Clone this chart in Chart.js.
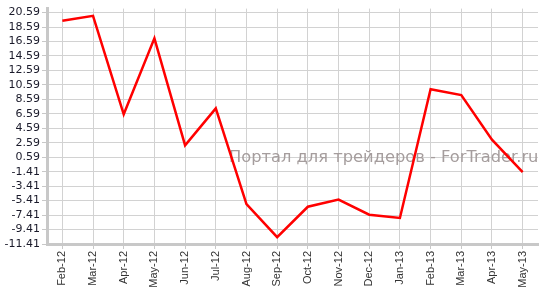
<!DOCTYPE html>
<html>
<head>
<meta charset="utf-8">
<script src="https://cdn.jsdelivr.net/npm/chart.js@4.4.0/dist/chart.umd.min.js"></script>
<style>
html,body{margin:0;padding:0;background:#fff;}
#wrap{position:relative;width:545px;height:291px;}
</style>
</head>
<body>
<div id="wrap"><canvas id="c"></canvas></div>
<script>
const categories = ["Feb-12","Mar-12","Apr-12","May-12","Jun-12","Jul-12","Aug-12","Sep-12","Oct-12","Nov-12","Dec-12","Jan-13","Feb-13","Mar-13","Apr-13","May-13"];
const values = [19.45, 20.14, 6.52, 17.03, 2.23, 7.35, -5.89, -10.46, -6.26, -5.26, -7.36, -7.81, 10.0, 9.18, 3.01, -1.46];
const yTickValues = [-11.41,-9.41,-7.41,-5.41,-3.41,-1.41,0.59,2.59,4.59,6.59,8.59,10.59,12.59,14.59,16.59,18.59,20.59];
const watermark = "Портал для трейдеров - ForTrader.ru";

const watermarkPlugin = {
  id: 'watermark',
  beforeDatasetsDraw(chart) {
    const ctx = chart.ctx;
    ctx.save();
    ctx.font = '16.3px "DejaVu Sans"';
    ctx.fillStyle = '#a59d9d';
    ctx.textBaseline = 'alphabetic';
    ctx.textAlign = 'left';
    ctx.fillText(watermark, 229, 162);
    ctx.restore();
  }
};

new Chart(document.getElementById('c'), {
  type: 'line',
  data: {
    labels: categories,
    datasets: [{
      data: values,
      borderColor: '#ff0000',
      borderWidth: 2.5,
      pointRadius: 0,
      tension: 0,
      fill: false
    }]
  },
  options: {
    responsive: true,
    maintainAspectRatio: false,
    animation: false,
    devicePixelRatio: 1,
    layout: { padding: { top: 6, right: 7, left: 0, bottom: 0 } },
    plugins: { legend: { display: false }, tooltip: { enabled: false } },
    scales: {
      x: {
        type: 'category',
        offset: true,
        grid: { offset: false, color: '#d2d2d2', lineWidth: 1, tickLength: 5, tickColor: '#c8c8c8' },
        border: { color: '#c8c8c8', width: 3 },
        ticks: {
          autoSkip: false, minRotation: 90, maxRotation: 90, padding: 2,
          color: '#333', font: { family: '"Liberation Sans", Arial', size: 11 }
        },
        afterFit(scale) { scale.height = 47; }
      },
      y: {
        min: -11.41,
        max: 21.14,
        afterBuildTicks(scale) { scale.ticks = yTickValues.map(v => ({ value: v })); },
        grid: { color: '#d2d2d2', lineWidth: 1, tickLength: 5, tickColor: '#c8c8c8' },
        border: { color: '#c8c8c8', width: 3 },
        ticks: {
          autoSkip: false,
          padding: 2,
          color: '#1a1a2a',
          font: { family: '"DejaVu Sans", Verdana', size: 11 },
          callback: (v) => Number(v).toFixed(2)
        },
        afterFit(scale) { scale.width = 47; }
      }
    }
  },
  plugins: [watermarkPlugin]
});
</script>
</body>
</html>
